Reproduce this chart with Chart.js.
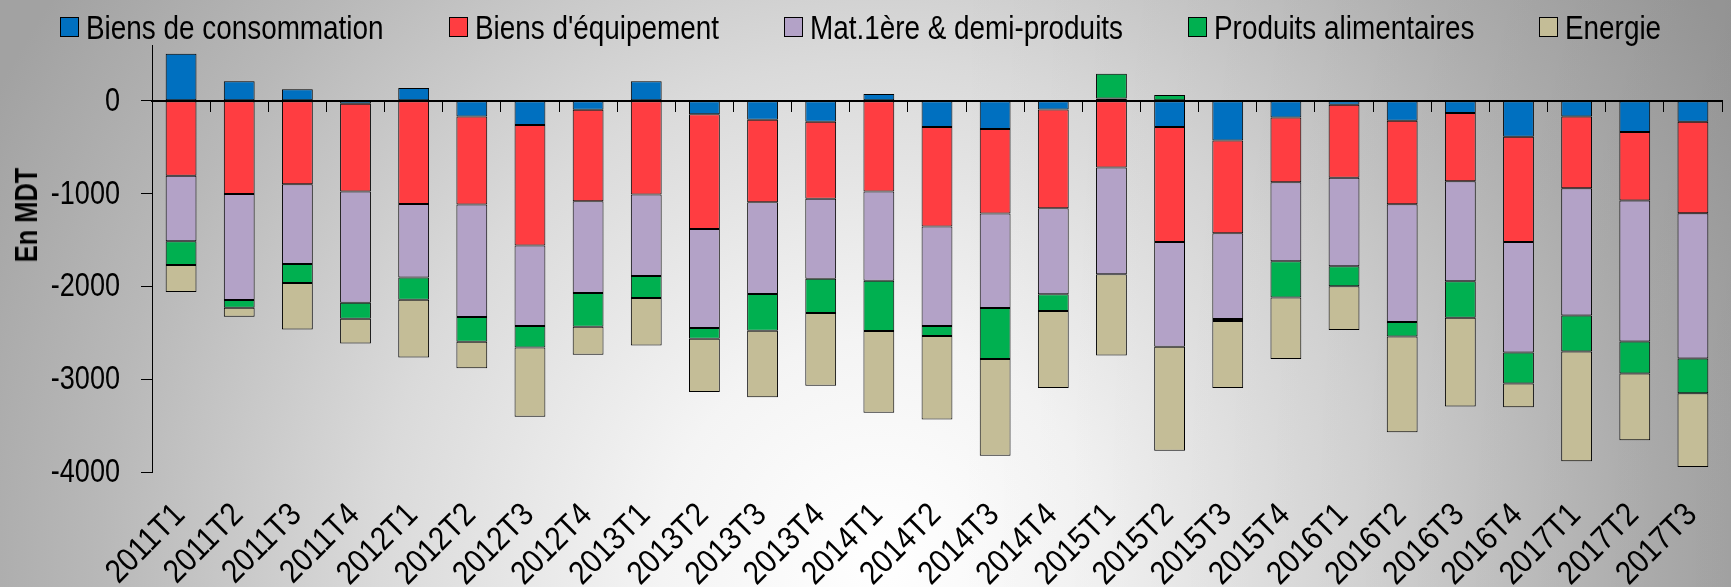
<!DOCTYPE html>
<html lang="fr">
<head>
    <meta charset="UTF-8">
    <title>Balance commerciale par groupe de produits</title>
    <script src="https://cdn.jsdelivr.net/npm/chart.js"></script>
    <style>
        body {
            margin: 0;
            font-family: 'Liberation Sans', Arial, sans-serif;
        }
        .wrap {
            position: relative;
            width: 1731px;
            height: 587px;
            overflow: hidden;
            background:
                linear-gradient(to right, rgba(0,0,0,0) 55%, rgba(0,0,0,0.09) 100%),
                radial-gradient(ellipse 1000px 1000px at 880px 560px, #ffffff 0%, #f4f4f4 22%, #dadada 50%, #b8b8b8 78%, #a2a2a2 100%);
        }
        .legend {
            position: absolute;
            top: 10px;
            left: 0;
            width: 1721px;
            display: flex;
            justify-content: center;
            gap: 65px;
            font-size: 34px;
            line-height: 34px;
            color: #000;
        }
        .legend .item {
            display: flex;
            align-items: center;
        }
        .legend .box {
            width: 17px;
            height: 18px;
            border: 1px solid #000;
            margin-right: 7px;
        }
        .legend .txt {
            display: inline-block;
            white-space: nowrap;
        }
        .legend .txt span {
            display: inline-block;
            transform: scaleX(0.82);
            transform-origin: left center;
        }
        .ytitle {
            position: absolute;
            left: 27px;
            top: 215px;
            transform: translate(-50%, -50%) rotate(-90deg) scaleX(0.82);
            font-weight: bold;
            font-size: 31px;
            white-space: nowrap;
        }
        canvas { position: absolute; left: 0; top: 0; }
    </style>
</head>
<body>
    <div class="wrap">
        <canvas id="balance" width="1731" height="587"></canvas>
        <div class="legend" id="legend"></div>
        <div class="ytitle">En MDT</div>
    </div>

    <script>
        // Trimestres
        const quarters = ['2011T1', '2011T2', '2011T3', '2011T4', '2012T1', '2012T2', '2012T3', '2012T4',
            '2013T1', '2013T2', '2013T3', '2013T4', '2014T1', '2014T2', '2014T3', '2014T4',
            '2015T1', '2015T2', '2015T3', '2015T4', '2016T1', '2016T2', '2016T3', '2016T4',
            '2017T1', '2017T2', '2017T3'];

        // Soldes par groupe (MDT)
        const consommation = [507, 209, 122, -32, 137, -169, -263, -97, 209, -147, -205, -228,
            72, -284, -306, -94, 25, -284, -428, -180, -43, -216, -133, -388, -169, -338, -227];
        const equipement = [-809, -1004, -899, -946, -1112, -950, -1298, -986, -1011, -1234, -889, -828,
            -978, -1072, -910, -1064, -719, -1238, -1000, -698, -788, -899, -734, -1134, -773, -738, -985];
        const matieres = [-705, -1143, -860, -1198, -794, -1212, -867, -989, -877, -1069, -989, -863,
            -961, -1072, -1018, -928, -1151, -1129, -925, -852, -953, -1270, -1079, -1190, -1371, -1518, -1565];
        const alimentaires = [-256, -83, -205, -173, -238, -266, -230, -363, -238, -115, -395, -367,
            -543, -108, -550, -180, 265, 61, -20, -389, -216, -155, -392, -335, -388, -345, -374];
        const energie = [-291, -97, -500, -266, -622, -284, -748, -302, -511, -572, -716, -784,
            -881, -899, -1040, -828, -874, -1119, -721, -665, -471, -1032, -957, -255, -1184, -719, -795];

        const yTicks = [-4000, -3000, -2000, -1000, 0];

        const series = [
            { label: 'Biens de consommation', data: consommation, color: '#0070C0' },
            { label: "Biens d'équipement", data: equipement, color: '#FF3D41' },
            { label: 'Mat.1ère & demi-produits', data: matieres, color: '#B3A2C7' },
            { label: 'Produits alimentaires', data: alimentaires, color: '#00B050' },
            { label: 'Energie', data: energie, color: '#C4BD97' }
        ];

        // no narrow font installed: squeeze Liberation Sans instead
        const squeeze = 0.82;
        const measureCtx = document.createElement('canvas').getContext('2d');
        measureCtx.font = "34px 'Liberation Sans'";

        // Legende
        const legend = document.getElementById('legend');
        series.forEach(s => {
            const item = document.createElement('div');
            item.className = 'item';
            const box = document.createElement('span');
            box.className = 'box';
            box.style.background = s.color;
            const txt = document.createElement('span');
            txt.className = 'txt';
            txt.style.width = (measureCtx.measureText(s.label).width * squeeze) + 'px';
            const inner = document.createElement('span');
            inner.textContent = s.label;
            txt.appendChild(inner);
            item.appendChild(box);
            item.appendChild(txt);
            legend.appendChild(item);
        });

        // tick labels drawn narrow, placed from the chart's own scales
        const narrowLabels = {
            id: 'narrowLabels',
            afterDraw(chart) {
                const ctx = chart.ctx;
                const xs = chart.scales.x;
                const ys = chart.scales.y;
                ctx.save();
                ctx.fillStyle = '#000';
                ctx.textAlign = 'right';
                ctx.textBaseline = 'middle';

                ctx.font = "33px 'Liberation Sans'";
                yTicks.forEach(v => {
                    ctx.save();
                    ctx.translate(ys.right - 11 - 21, ys.getPixelForValue(v) + 1);
                    ctx.scale(squeeze, 1);
                    ctx.fillText(String(v), 0, 0);
                    ctx.restore();
                });

                quarters.forEach((q, i) => {
                    ctx.save();
                    ctx.translate(xs.getPixelForTick(i) - 1, ys.bottom + 38);
                    ctx.rotate(-Math.PI / 4);
                    ctx.scale(0.88, 1);
                    ctx.fillText(q, 0, 0);
                    ctx.restore();
                });
                ctx.restore();
            }
        };

        new Chart(document.getElementById('balance'), {
            type: 'bar',
            data: {
                labels: quarters,
                datasets: series.map(s => ({
                    label: s.label,
                    data: s.data,
                    backgroundColor: s.color,
                    borderColor: '#000',
                    borderWidth: 1,
                    borderSkipped: false,
                    barPercentage: 0.53,
                    categoryPercentage: 1
                }))
            },
            plugins: [narrowLabels],
            options: {
                responsive: false,
                animation: false,
                layout: { padding: { top: 45, right: 9, left: 0, bottom: 0 } },
                plugins: {
                    legend: { display: false },
                    tooltip: { enabled: false }
                },
                scales: {
                    x: {
                        stacked: true,
                        grid: { display: false, drawTicks: false },
                        border: { display: false },
                        ticks: { display: false },
                        afterFit: s => { s.height = 115; }
                    },
                    x0: {
                        type: 'category',
                        position: { y: 0 },
                        z: 1,
                        grid: { offset: true, drawOnChartArea: false, tickLength: 10, color: '#000', lineWidth: 1 },
                        border: { color: '#000', width: 2 },
                        ticks: { display: false }
                    },
                    y: {
                        stacked: true,
                        min: -4000,
                        max: 600,
                        grid: { drawOnChartArea: false, tickLength: 11, color: '#000', lineWidth: 1 },
                        border: { color: '#000', width: 1 },
                        ticks: { display: false },
                        afterBuildTicks: s => { s.ticks = yTicks.map(v => ({ value: v })); },
                        afterFit: s => { s.width = 152; }
                    }
                }
            }
        });
    </script>
</body>
</html>
